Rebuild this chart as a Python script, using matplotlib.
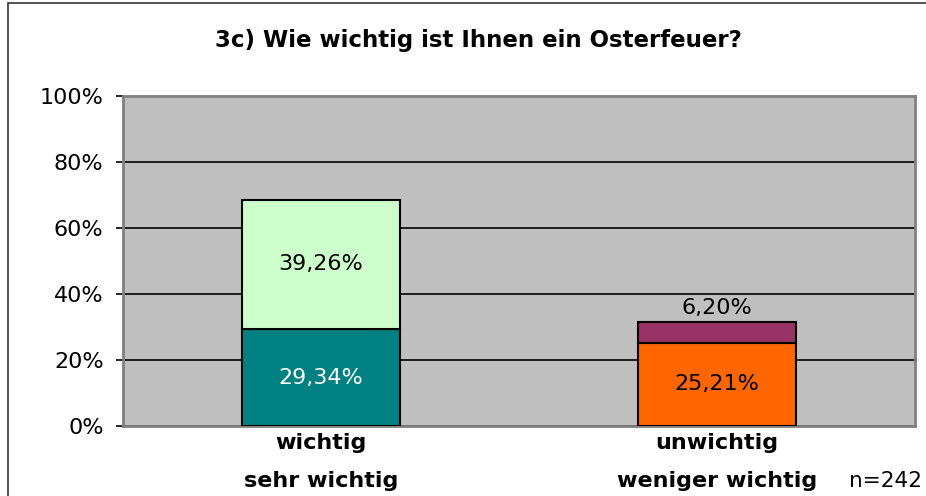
import matplotlib
matplotlib.use("Agg")
import matplotlib.pyplot as plt
from matplotlib.patches import Rectangle
from matplotlib.ticker import FixedLocator

# Survey results (percent)
categories = ["wichtig\nsehr wichtig", "unwichtig\nweniger wichtig"]
lower_values = [29.34, 25.21]
upper_values = [39.26, 6.20]
lower_colors = ["#008080", "#FF6600"]
upper_colors = ["#CCFFCC", "#993366"]
lower_text_colors = ["white", "black"]
y_ticks = [0, 20, 40, 60, 80, 100]
y_tick_labels = ["0%", "20%", "40%", "60%", "80%", "100%"]
title = "3c) Wie wichtig ist Ihnen ein Osterfeuer?"
sample_note = "n=242"

def fmt(v):
    return f"{v:.2f}".replace(".", ",") + "%"

fig = plt.figure(figsize=(9.26, 4.96), dpi=100)
fig.patch.set_facecolor("white")

# outer chart frame
fig.patches.append(Rectangle((8 / 926, -0.05), 1.2, 1.05 - 3 / 496,
                             transform=fig.transFigure, fill=False,
                             edgecolor="#333333", linewidth=1.2))

ax = fig.add_axes([123 / 926, 1 - 426 / 496, 792 / 926, 330 / 496])
ax.set_facecolor("#C0C0C0")

x = list(range(len(categories)))
ax.bar(x, lower_values, width=0.4, color=lower_colors, edgecolor="black",
       linewidth=1.5, zorder=3)
ax.bar(x, upper_values, width=0.4, bottom=lower_values, color=upper_colors,
       edgecolor="black", linewidth=1.5, zorder=3)

label_size = 16
for i in x:
    ax.text(i, lower_values[i] / 2, fmt(lower_values[i]), ha="center",
            va="center", color=lower_text_colors[i], fontsize=label_size,
            family="DejaVu Sans", zorder=4)
    top = lower_values[i] + upper_values[i]
    if upper_values[i] > 10:
        ax.text(i, lower_values[i] + upper_values[i] / 2, fmt(upper_values[i]),
                ha="center", va="center", color="black", fontsize=label_size,
                family="DejaVu Sans", zorder=4)
    else:
        ax.annotate(fmt(upper_values[i]), (i, top), xytext=(0, 3),
                    textcoords="offset points", ha="center", va="bottom",
                    fontsize=label_size, family="DejaVu Sans", zorder=4)

ax.set_xlim(-0.5, 1.5)
ax.set_ylim(0, 100)
ax.yaxis.set_major_locator(FixedLocator(y_ticks))
ax.set_yticklabels(y_tick_labels, family="DejaVu Sans", fontsize=16)
ax.tick_params(axis="y", direction="out", length=5, width=1.2, color="black",
               pad=9)
ax.set_xticks(x)
ax.set_xticklabels(categories, fontsize=16, fontweight="bold",
                   family="DejaVu Sans", linespacing=2.1)
ax.tick_params(axis="x", length=0, pad=5)

ax.grid(axis="y", color="black", linewidth=1.2, zorder=1)
ax.set_axisbelow(True)
for s in ax.spines.values():
    s.set_color("#808080")
    s.set_linewidth(2)

fig.text(478 / 926, 1 - 40 / 496, title, ha="center", va="center",
         fontsize=16.5, fontweight="bold", family="DejaVu Sans")
fig.text(922 / 926, 1 - 481 / 496, sample_note, ha="right", va="center",
         fontsize=15.5, family="DejaVu Sans")

fig.savefig("out.png", dpi=100)
